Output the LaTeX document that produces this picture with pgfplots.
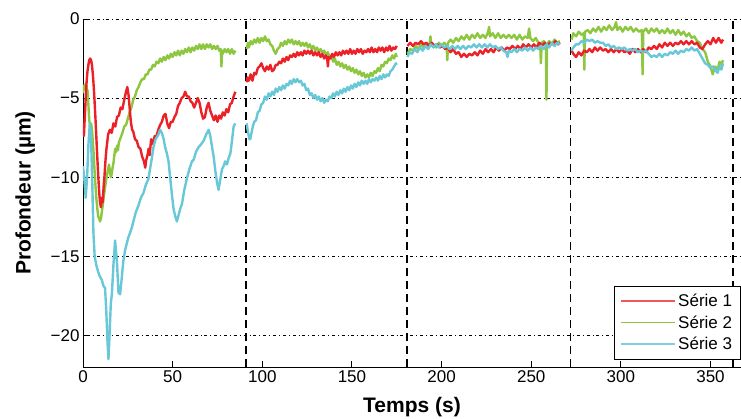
\documentclass[border=0pt]{standalone}
\usepackage{pgfplots}
\pgfplotsset{compat=1.18}
\usepackage{fontspec}
\setmainfont{Liberation Sans}
\definecolor{c1}{RGB}{236,32,39}
\definecolor{c2}{RGB}{141,198,63}
\definecolor{c3}{RGB}{104,200,216}
\begin{document}
\begin{tikzpicture}
\begin{axis}[name=ax,
 scale only axis, width=658pt, height=348pt,
 xmin=0, xmax=367, ymin=-22, ymax=0,
 axis x line*=bottom, axis y line*=left,
 axis line style={line width=0.9pt,-},
 xtick={0,50,...,350}, ytick={-20,-15,-10,-5,0},
 yticklabels={−20,−15,−10,−5,0},
 tick align=inside, major tick length=6pt,
 tick style={line width=0.9pt,black},
 ymajorgrids,
 grid style={black, line width=0.7pt, dash pattern=on 0.8pt off 3pt on 3pt off 3pt},
 ticklabel style={font=\fontsize{17}{20}\selectfont},
 /pgf/number format/assume math mode=true,
 xlabel={Temps (s)}, ylabel={Profondeur (µm)},
 label style={font=\fontsize{21}{24}\selectfont\bfseries},
 xlabel style={at={(axis description cs:0.5,-0.115)}, anchor=center},
 ylabel style={at={(axis description cs:-0.088,0.5)}, anchor=center},
 legend style={at={(axis cs:366.5,-21.5)}, anchor=south east,
   font=\fontsize{17}{20}\selectfont, draw=black, line width=0.7pt, fill=white,
   inner sep=6pt, outer sep=0pt, row sep=3.5pt},
 legend cell align=left,
 legend image code/.code={\draw[#1, line width=1.5pt] (0pt,0pt) -- (54pt,0pt);},
 every axis plot/.append style={line width=2.4pt, line join=round},
]
\addlegendimage{c1!75}\addlegendentry{Série 1}
\addlegendimage{c2}\addlegendentry{Série 2}
\addlegendimage{c3!85}\addlegendentry{Série 3}

% separators
\addplot[black, line width=1.5pt, dash pattern=on 8pt off 5pt, forget plot] coordinates {(90.9,-22) (90.9,0)};
\addplot[black, line width=1.5pt, dash pattern=on 8pt off 5pt, forget plot] coordinates {(180.6,-22) (180.6,0)};
\addplot[black, line width=1.5pt, dash pattern=on 8pt off 5pt, forget plot] coordinates {(272,-22) (272,0)};
\addplot[black, line width=1.5pt, dash pattern=on 8pt off 5pt, forget plot] coordinates {(362.6,-22) (362.6,0)};

% ---------- Serie 2 (green)
\addplot[c2, forget plot] coordinates {
(0,-4.7)(0.5,-4.2)(1,-4.4)(1.5,-4.1)(2,-4.4)(2.5,-4.5)(3,-5.4)(3.5,-6.4)(4,-6.8)(4.5,-6.6)(5,-7.0)(5.5,-7.8)(6,-8.6)(6.5,-9.7)(7,-10.6)(7.5,-11.4)(8,-12.0)(8.5,-12.5)(9,-12.6)(9.5,-12.8)(10,-12.6)(10.5,-12.2)(11,-11.8)(11.5,-11.3)(12,-10.9)(12.5,-10.5)(13,-10.1)(13.5,-9.8)(14,-9.5)(14.5,-9.2)(15,-9.6)(15.5,-10.0)(16,-9.8)(16.5,-9.4)(17,-9.1)(17.5,-8.6)(18,-8.2)(18.5,-8.4)(19,-8.0)(19.5,-8.3)(20,-7.8)(21,-7.5)(22,-7.2)(23,-6.8)(24,-6.7)(25,-6.3)(26,-5.9)(27,-5.6)(28,-5.1)(29,-4.9)(30,-4.5)(31,-4.3)(32,-4.0)(33,-3.8)(34,-3.8)(35,-3.5)(36,-3.5)(37,-3.2)(38,-3.2)(39,-2.9)(40,-3.0)(41,-2.7)(42,-2.8)(43,-2.5)(44,-2.7)(45,-2.4)(46,-2.6)(47,-2.3)(48,-2.5)(49,-2.2)(50,-2.4)(51,-2.1)(52,-2.3)(53,-2.0)(54,-2.3)(55,-2.0)(56,-2.2)(57,-1.9)(58,-2.1)(59,-1.8)(60,-2.1)(61,-1.8)(62,-2.0)(63,-1.7)(64,-1.9)(65,-1.6)(66,-1.9)(67,-1.6)(68,-1.9)(69,-1.6)(70,-1.8)(71,-1.6)(72,-1.9)(73,-1.7)(74,-1.9)(75,-1.7)(76,-2.0)(76.8,-1.9)(77.2,-3.0)(77.6,-2.0)(78,-2.2)(79,-1.9)(80,-2.1)(81,-1.9)(82,-2.2)(83,-1.9)(84,-2.2)(85,-2.0)};
\addplot[c2, forget plot] coordinates {
(91.3,-1.9)(92,-1.5)(92.5,-1.8)(93.5,-1.4)(94.5,-1.6)(95.5,-1.3)(96.5,-1.5)(97.5,-1.2)(98.5,-1.5)(99.5,-1.2)(100.5,-1.4)(101.5,-1.1)(102.5,-1.4)(103.5,-1.3)(104.5,-1.6)(105.5,-1.7)(106.5,-2.0)(107.5,-2.2)(108.5,-1.9)(109.5,-1.8)(110.5,-1.5)(111.5,-1.7)(112.5,-1.4)(113.5,-1.6)(114.5,-1.3)(115.5,-1.5)(116.5,-1.3)(117.5,-1.6)(118.5,-1.4)(119.5,-1.6)(120.5,-1.4)(121.5,-1.7)(122.5,-1.5)(123.5,-1.7)(124.5,-1.5)(125.5,-1.8)(126.5,-1.6)(127.5,-1.9)(128.5,-1.7)(129.5,-2.0)(130.5,-1.8)(131.5,-2.1)(132.5,-1.9)(133.5,-2.1)(134.5,-2.0)(135.5,-2.3)(136.5,-2.1)(137.5,-2.4)(138.5,-2.3)(139.5,-2.7)(140.5,-2.5)(141.5,-2.9)(142.5,-2.7)(143.5,-3.0)(144.5,-2.8)(145.5,-3.1)(146.5,-2.9)(147.5,-3.2)(148.5,-3.0)(149.5,-3.3)(150.5,-3.1)(151.5,-3.4)(152.5,-3.2)(153.5,-3.5)(154.5,-3.3)(155.5,-3.6)(156.5,-3.4)(157.5,-3.7)(158.5,-3.5)(159.5,-3.7)(160.5,-3.4)(161.5,-3.6)(162.5,-3.3)(163.5,-3.4)(164.5,-3.1)(165.5,-3.3)(166.5,-2.9)(167.5,-3.0)(168.5,-2.7)(169.5,-2.8)(170.5,-2.5)(171.5,-2.6)(172.5,-2.3)(173.5,-2.5)(174.5,-2.2)(175,-2.4)};
\addplot[c2, forget plot] coordinates {
(181,-2.2)(182.5,-1.9)(184,-2.0)(185.5,-1.7)(187,-1.9)(188.5,-1.6)(190,-1.8)(191.5,-1.6)(193,-1.8)(193.8,-1.1)(194.3,-1.7)(195.5,-1.6)(197,-1.8)(198.5,-1.5)(200,-1.7)(201.5,-1.5)(202.8,-1.7)(203.2,-2.6)(203.6,-1.5)(205,-1.3)(206.5,-1.5)(208,-1.2)(209.5,-1.4)(211,-1.1)(212.5,-1.3)(214,-1.0)(215.5,-1.3)(217,-1.0)(218.5,-1.2)(220,-0.9)(221.5,-1.2)(223,-1.0)(224.5,-1.2)(226,-0.8)(226.5,-0.5)(227,-1.1)(228.5,-0.9)(230,-1.2)(231.5,-0.9)(233,-1.2)(234.5,-1.0)(236,-1.2)(237.5,-1.0)(239,-1.2)(240.5,-1.0)(242,-1.3)(243.5,-1.0)(245,-1.3)(246.5,-1.1)(248,-1.2)(248.8,-0.6)(249.5,-1.2)(251,-1.4)(252.5,-1.2)(254,-1.5)(255,-1.6)(255.4,-2.8)(255.8,-1.5)(257,-1.4)(258.2,-1.6)(258.5,-5.1)(258.8,-1.6)(260,-1.4)(261.5,-1.6)(263,-1.3)(264.5,-1.5)(266,-1.4)};
\addplot[c2, forget plot] coordinates {
(272.5,-1.3)(273.5,-0.9)(275,-1.1)(276.5,-0.8)(278,-1.0)(279.3,-0.9)(279.6,-3.2)(280,-0.8)(281.5,-0.7)(283,-0.9)(284.5,-0.6)(286,-0.8)(287.5,-0.5)(289,-0.8)(290.5,-0.5)(292,-0.7)(293.5,-0.4)(295,-0.7)(296.5,-0.5)(297.3,-0.2)(298,-0.7)(299.5,-0.5)(301,-0.8)(302.5,-0.5)(304,-0.7)(305.5,-0.5)(307,-0.8)(308.5,-0.6)(310,-0.8)(311.7,-0.7)(312.1,-3.5)(312.5,-0.8)(314,-0.6)(315.5,-0.9)(317,-0.6)(318.5,-0.8)(320,-0.6)(321.5,-0.9)(323,-0.7)(324.5,-0.9)(326,-0.6)(327.5,-0.9)(329,-0.7)(330.5,-1.0)(332,-0.7)(333.5,-1.0)(335,-0.8)(336.5,-1.1)(338,-0.9)(339.5,-1.2)(341,-1.1)(342.5,-1.4)(344,-1.5)(345.5,-1.9)(347,-2.1)(348.5,-2.7)(350,-3.0)(351.2,-3.5)(352.5,-3.0)(354,-3.2)(355,-2.7)(356,-2.9)(357,-2.6)};

% ---------- Serie 1 (red)
\addplot[c1, forget plot] coordinates {
(0,-6.6)(0.5,-7.4)(1,-6.2)(1.5,-5.0)(2,-4.0)(2.5,-3.3)(3,-2.9)(3.5,-2.6)(4,-2.5)(4.5,-2.6)(5,-2.9)(5.5,-3.5)(6,-4.3)(6.5,-5.3)(7,-6.4)(7.5,-7.6)(8,-8.8)(8.5,-9.9)(9,-10.9)(9.5,-11.6)(10,-11.9)(10.5,-11.3)(11,-11.6)(11.5,-10.6)(12,-9.9)(12.5,-9.0)(13,-8.3)(13.5,-7.8)(14,-7.3)(15,-7.0)(16,-7.2)(17,-6.6)(18,-6.8)(19,-6.2)(20,-6.1)(21,-5.6)(22,-5.7)(23,-5.1)(24,-4.6)(24.7,-4.3)(25.4,-4.8)(26,-5.6)(26.7,-6.5)(27.4,-7.0)(28,-7.1)(29,-7.6)(30,-7.7)(31,-8.1)(32,-8.2)(33,-8.7)(34,-9.0)(34.7,-9.4)(35.3,-8.9)(36,-8.6)(36.6,-8.2)(37.2,-8.6)(38,-7.6)(39,-7.9)(40,-7.4)(41,-7.4)(42,-7.0)(43,-6.7)(44,-6.5)(45,-6.1)(46,-6.0)(47,-6.6)(48,-6.9)(49,-6.5)(50,-6.5)(51,-6.2)(52,-6.0)(53,-5.5)(54,-5.3)(55,-5.0)(56,-4.9)(57,-4.6)(58,-4.9)(59,-4.9)(60,-5.2)(61,-5.3)(62,-5.6)(63,-5.3)(64,-5.0)(65,-5.3)(66,-5.9)(67,-6.3)(68,-6.2)(69,-5.6)(70,-5.3)(71,-5.8)(72,-6.1)(73,-6.4)(74,-6.1)(75,-6.5)(76,-6.1)(77,-6.3)(78,-5.9)(79,-6.1)(80,-5.7)(81,-5.9)(82,-5.4)(83,-5.3)(84,-4.9)(85,-4.6)};
\addplot[c1, forget plot] coordinates {
(91.3,-4.0)(91.8,-3.7)(92.5,-3.9)(93.5,-3.5)(94.5,-3.9)(95.5,-3.4)(96.5,-3.5)(97.5,-3.1)(98.5,-3.0)(99.5,-2.8)(100.5,-3.1)(101.5,-3.3)(102.5,-3.0)(103.5,-3.2)(104.5,-2.9)(105.5,-3.3)(106.5,-3.2)(107.5,-2.9)(108.5,-2.9)(109.5,-2.7)(110.5,-2.8)(111.5,-2.5)(112.5,-2.7)(113.5,-2.4)(114.5,-2.6)(115.5,-2.3)(116.5,-2.4)(117.5,-2.2)(118.5,-2.4)(119.5,-2.1)(120.5,-2.3)(121.5,-2.1)(122.5,-2.3)(123.5,-2.0)(124.5,-2.2)(125.5,-2.0)(126.5,-2.2)(127.5,-2.0)(128.5,-2.3)(129.5,-2.1)(130.5,-2.3)(131.5,-2.1)(132.5,-2.4)(133.5,-2.2)(134.5,-2.5)(135.5,-2.3)(136.2,-2.5)(136.6,-3.0)(137,-2.4)(138,-2.5)(139,-2.2)(140,-2.4)(141,-2.1)(142,-2.3)(143,-2.1)(144,-2.3)(145,-2.0)(146,-2.2)(147,-2.0)(148,-2.2)(149,-1.9)(150,-2.2)(151,-2.0)(152,-2.2)(153,-1.9)(154,-2.1)(155,-1.9)(156,-2.2)(157,-2.0)(158,-2.1)(159,-1.9)(160,-2.1)(161,-1.8)(162,-2.1)(163,-1.9)(164,-2.1)(165,-1.8)(166,-2.0)(167,-1.8)(168,-2.1)(169,-1.8)(170,-2.0)(171,-1.7)(172,-2.0)(173,-1.8)(174,-1.9)(175,-1.7)};
\addplot[c1, forget plot] coordinates {
(181,-1.7)(182.5,-1.5)(184,-1.7)(185.5,-1.5)(187,-1.6)(188.5,-1.4)(190,-1.6)(191.5,-1.5)(193,-1.7)(194.5,-1.5)(196,-1.7)(197.5,-1.6)(199,-1.8)(200.5,-1.7)(202,-1.9)(203.5,-1.8)(205,-2.1)(206.5,-1.9)(208,-2.2)(209.5,-2.1)(211,-2.4)(212.5,-2.2)(214,-2.4)(215.5,-2.2)(217,-2.3)(218.5,-2.1)(220,-2.3)(221.5,-2.0)(223,-2.2)(224.5,-1.9)(226,-2.1)(227.5,-1.9)(229,-2.1)(230.5,-1.8)(232,-2.0)(233.5,-1.8)(235,-2.0)(236.5,-1.8)(238,-1.9)(239.5,-1.7)(241,-1.9)(242.5,-1.7)(244,-1.9)(245.5,-1.6)(247,-1.8)(248.5,-1.6)(250,-1.8)(251.5,-1.6)(253,-1.8)(254.5,-1.5)(256,-1.7)(257.5,-1.5)(259,-1.7)(260.5,-1.5)(262,-1.6)(263.5,-1.4)(265,-1.6)(266,-1.5)};
\addplot[c1, forget plot] coordinates {
(272.5,-2.0)(273.5,-2.2)(275,-2.4)(276.5,-2.1)(278,-2.3)(279.5,-2.0)(281,-2.1)(282.5,-1.9)(284,-2.1)(285.5,-1.8)(287,-2.0)(288.5,-1.8)(290,-2.0)(291.5,-1.9)(293,-2.1)(294.5,-1.9)(296,-2.1)(297.5,-1.9)(299,-2.1)(300.5,-1.9)(302,-2.1)(303.5,-2.0)(305,-2.2)(306.5,-1.9)(308,-2.1)(309.5,-1.9)(311,-2.1)(312.5,-1.9)(314,-2.1)(315.5,-1.8)(317,-1.9)(318.5,-1.7)(320,-1.9)(321.5,-1.6)(323,-1.8)(324.5,-1.5)(326,-1.7)(327.5,-1.5)(329,-1.7)(330.5,-1.5)(332,-1.6)(333.5,-1.4)(335,-1.6)(336.5,-1.4)(338,-1.6)(339.5,-1.4)(341,-1.6)(342.5,-1.5)(344,-1.8)(345.5,-1.9)(347,-1.6)(348.5,-1.4)(350,-1.6)(351.5,-1.2)(353,-1.5)(354.5,-1.2)(356,-1.5)(357,-1.3)};

% ---------- Serie 3 (cyan)
\addplot[c3, forget plot] coordinates {
(0,-9.3)(0.8,-10.2)(1.5,-11.3)(2.3,-10)(3,-8)(3.8,-6.6)(4.5,-7.5)(5.2,-10.5)(5.8,-13.5)(6.5,-15)(7.5,-15.6)(8.5,-16)(9.5,-16.3)(10.5,-16.5)(11.5,-16.9)(12.3,-17)(13,-18.5)(13.7,-20.5)(14.2,-21.5)(14.8,-20)(15.5,-18)(16.1,-17.4)(17,-15.5)(17.9,-14)(18.9,-15.3)(19.8,-17.3)(20.7,-17.4)(21.5,-16.5)(22.5,-15.3)(23.5,-14.6)(24.4,-14.2)(25.3,-13.8)(26.3,-13.5)(27.2,-13.2)(28.1,-12.8)(29.5,-12.2)(30.9,-11.8)(32.3,-11.3)(33.7,-11.0)(35,-10.5)(36.5,-10.1)(37.5,-9.4)(38.4,-8.8)(39.3,-8.1)(40.5,-7.6)(42.1,-7.3)(43,-7.0)(44,-7.2)(45,-7.6)(45.8,-8.1)(46.8,-8.5)(47.7,-9.0)(48.6,-10)(49.5,-11)(50.5,-12)(51.5,-12.5)(52.4,-12.8)(53.5,-12.3)(54.5,-11.9)(55.2,-11.7)(56.5,-10.8)(57.9,-10.1)(59.3,-9.5)(60.8,-9.0)(61.7,-8.9)(63,-8.4)(64.5,-8.1)(66,-7.9)(67.3,-7.7)(68.7,-7.3)(70.1,-7.0)(71,-7.4)(72,-8.1)(73,-8.8)(73.8,-9.6)(74.7,-10.3)(75.6,-10.8)(76.5,-10.2)(77.5,-9.5)(78.4,-9.3)(79.3,-9.0)(80.3,-9.2)(81.2,-8.8)(82.2,-8.5)(83,-7.8)(84,-6.8)(84.9,-6.6)};
\addplot[c3, forget plot] coordinates {
(91.3,-6.6)(91.8,-7.0)(92.3,-7.3)(92.8,-7.6)(93.3,-7.6)(94,-7.2)(94.7,-6.8)(95.5,-6.5)(96.5,-6.4)(97.5,-5.9)(98.5,-5.8)(99.5,-5.4)(100.5,-5.3)(101.5,-4.9)(102.5,-5.1)(103.5,-4.7)(104.5,-4.9)(105.5,-4.6)(106.5,-4.8)(107.5,-4.4)(108.5,-4.6)(109.5,-4.3)(110.5,-4.5)(111.5,-4.2)(112.5,-4.4)(113.5,-4.1)(114.5,-4.2)(115.5,-3.9)(116.5,-4.1)(117.5,-3.8)(118.5,-4.0)(119.5,-3.8)(120.5,-4.0)(121.5,-3.9)(122.5,-4.2)(123.5,-4.1)(124.5,-4.5)(125.5,-4.4)(126.5,-4.8)(127.5,-4.7)(128.5,-5.0)(129.5,-4.8)(130.5,-5.1)(131.5,-4.9)(132.5,-5.2)(133.5,-5.0)(134.5,-5.3)(135.5,-5.1)(136.5,-5.2)(137.5,-4.9)(138.5,-5.0)(139.5,-4.7)(140.5,-4.9)(141.5,-4.6)(142.5,-4.8)(143.5,-4.5)(144.5,-4.7)(145.5,-4.4)(146.5,-4.6)(147.5,-4.3)(148.5,-4.5)(149.5,-4.2)(150.5,-4.4)(151.5,-4.1)(152.5,-4.3)(153.5,-4.0)(154.5,-4.2)(155.5,-3.9)(156.5,-4.1)(157.5,-3.9)(158.5,-4.1)(159.5,-3.8)(160.5,-4.0)(161.5,-3.8)(162.5,-3.9)(163.5,-3.7)(164.5,-3.9)(165.5,-3.6)(166.5,-3.8)(167.5,-3.5)(168.5,-3.7)(169.5,-3.5)(170.5,-3.6)(171.5,-3.3)(172.5,-3.2)(173.5,-3.0)(174.5,-2.8)(175,-2.9)};
\addplot[c3, forget plot] coordinates {
(181,-2.4)(182,-2.1)(183.5,-2.2)(185,-1.9)(186.5,-2.1)(188,-1.8)(189.5,-2.0)(191,-1.7)(192.5,-1.9)(194,-1.6)(195.5,-1.8)(197,-1.6)(198.5,-1.8)(200,-1.6)(201.5,-1.8)(203,-1.7)(204.5,-1.9)(206,-1.7)(207.5,-1.9)(209,-1.7)(210.5,-1.9)(212,-1.7)(213.5,-1.9)(215,-1.7)(216.5,-1.8)(218,-1.6)(219.5,-1.8)(221,-1.6)(222.5,-1.8)(224,-1.6)(225.5,-1.8)(227,-1.6)(228.5,-1.8)(230,-1.7)(231.5,-1.9)(233,-1.8)(234.5,-2.0)(236,-2.1)(236.8,-2.4)(237.5,-2.0)(239,-2.1)(240.5,-1.9)(242,-2.1)(243.5,-1.9)(245,-2.0)(246.5,-1.8)(248,-2.0)(249.5,-1.8)(251,-2.0)(252.5,-1.8)(254,-1.9)(255.5,-1.7)(257,-1.9)(258.5,-1.6)(260,-1.8)(261.5,-1.5)(263,-1.7)(264.5,-1.5)(266,-1.6)};
\addplot[c3, forget plot] coordinates {
(272.5,-2.0)(273.5,-1.8)(275,-1.6)(276.5,-1.6)(278,-1.4)(279.5,-1.5)(281,-1.3)(282.5,-1.4)(284,-1.3)(285.5,-1.5)(287,-1.4)(288.5,-1.5)(290,-1.5)(291.5,-1.7)(293,-1.6)(294.5,-1.8)(296,-1.7)(297.5,-1.9)(299,-1.8)(300.5,-1.9)(302,-1.8)(303.5,-2.0)(305,-1.9)(306.5,-2.0)(308,-1.9)(309.5,-2.1)(311,-2.0)(312.5,-2.1)(314,-2.0)(315.5,-2.2)(317,-2.4)(318.5,-2.3)(320,-2.4)(321.5,-2.2)(323,-2.4)(324.5,-2.2)(326,-2.3)(327.5,-2.1)(329,-2.2)(330.5,-2.0)(332,-2.2)(333.5,-2.0)(335,-2.1)(336.5,-1.9)(338,-2.0)(339.5,-1.8)(341,-2.0)(342.5,-1.9)(344,-2.2)(345.5,-2.5)(347,-2.8)(348.5,-2.9)(350,-3.1)(351.5,-3.0)(353,-3.3)(354,-3.4)(355,-3.0)(356,-3.2)(357,-2.8)};
\end{axis}
\pgfresetboundingbox
\path ([shift={(-83pt,-51pt)}]ax.south west) rectangle ([shift={(0pt,19pt)}]ax.north east);
\end{tikzpicture}
\end{document}
